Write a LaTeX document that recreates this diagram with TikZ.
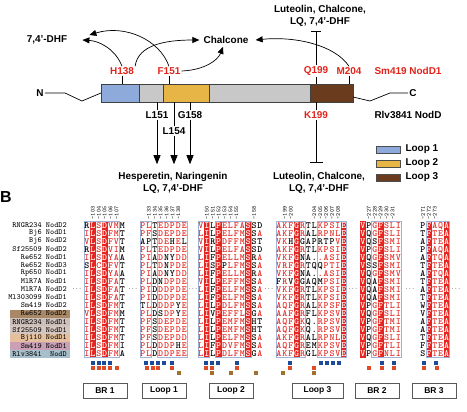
\documentclass[tikz,border=0pt]{standalone}
\usepackage{fontspec}
\setmainfont{Liberation Sans}
\usetikzlibrary{positioning, calc, arrows.meta}

\definecolor{loopA}{HTML}{8EAADB}
\definecolor{loopB}{HTML}{E6B545}
\definecolor{loopC}{HTML}{6B3B1E}
\definecolor{bargray}{HTML}{C8C8C8}
\definecolor{resred}{HTML}{E2231A}
\definecolor{alnred}{HTML}{E52620}
\definecolor{frameblue}{HTML}{9FB3D6}
\definecolor{sqblue}{HTML}{1E4A9A}
\definecolor{sqred}{HTML}{E04A25}
\definecolor{sqbrown}{HTML}{A07030}
\definecolor{nmA}{HTML}{A88866}
\definecolor{nmB}{HTML}{CDBFBA}
\definecolor{nmC}{HTML}{D6C6C0}
\definecolor{nmD}{HTML}{E6C09C}
\definecolor{nmE}{HTML}{C9A0B6}
\definecolor{nmF}{HTML}{A7BFCB}

\tikzset{
	lbl/.style={font=\bfseries\fontsize{10}{12}\selectfont, inner sep=1bp},
	reslbl/.style={lbl, text=resred},
	seg/.style={draw=black!75, line width=0.6bp, minimum height=18bp, inner sep=0, outer sep=0},
	arr/.style={-{Triangle[length=7bp,width=6bp]}, line width=0.7bp},
	darr/.style={-{Triangle[length=9bp,width=7bp]}, line width=0.7bp},
	inh/.style={line width=0.7bp},
	legbox/.style={draw=black!70, line width=0.6bp, minimum width=24bp, minimum height=7bp, inner sep=0},
	nm/.style={font=\ttfamily\fontsize{7.9}{8}\selectfont, anchor=east, inner sep=0},
	alnlt/.style={font=\ttfamily\bfseries\fontsize{9.5}{9.5}\selectfont, inner sep=0, anchor=base},
	hdr/.style={font=\ttfamily\fontsize{6}{6}\selectfont, text=black, rotate=90, anchor=west, inner sep=0},
	frm/.style={draw=frameblue, line width=0.7bp},
	dots/.style={font=\ttfamily\fontsize{6}{6}\selectfont, inner sep=0},
	regbox/.style={draw=black!65, line width=1bp, minimum height=15bp, inner sep=0, font=\bfseries\fontsize{8.5}{9}\selectfont}
}

\newcommand\alnpitch{5.9}
\newcommand\alnrow[4]{%
	\pgfmathsetmacro\alnx{#1+\alnpitch/2}%
	\pgfmathsetmacro\alny{228+(#2-1)*8.05}%
	\edef\alntmp{\noexpand\alnloop#3\relax#4\relax}\alntmp}
\def\alnloop#1#2\relax#3#4\relax{%
	\alnchar{#1}{#3}%
	\pgfmathsetmacro\alnx{\alnx+\alnpitch}%
	\if\relax\detokenize{#2}\relax\else\alnloop#2\relax#4\relax\fi}
\newcommand\alnchar[2]{%
	\def\alncol{black}%
	\ifx w#1\def\alncol{white}\else
		\ifx r#1\def\alncol{alnred}\fi
		\ifnum`#2=\lccode`#2 \def\alncol{black}\fi
	\fi
	\ifnum`#2=\lccode`#2 \edef\alnglyph{\noexpand\char\number\uccode`#2 }\else\def\alnglyph{#2}\fi
	\node[alnlt,text=\alncol] at (\alnx,\alny) {\alnglyph};}
\newcommand\alnband[2]{\fill[alnred] ({#1+(#2-1)*\alnpitch},221) rectangle ++(\alnpitch,136.8);}
\newcommand\alnframe[3]{\draw[frm] ({#1+(#2-1)*\alnpitch},221) rectangle ({#1+#3*\alnpitch},357.8);}

\begin{document}
\begin{tikzpicture}[x=1bp,y=-1bp]
	\useasboundingbox (0,0) rectangle (467,411);

	% domain bar
	\node[seg,fill=loopA,minimum width=38bp,anchor=west] (s1) at (101,93) {};
	\node[seg,fill=bargray,minimum width=24bp,right=0pt of s1] (s2) {};
	\node[seg,fill=loopB,minimum width=46bp,right=0pt of s2] (s3) {};
	\node[seg,fill=bargray,minimum width=101bp,right=0pt of s3] (s4) {};
	\node[seg,fill=loopC,minimum width=43bp,right=0pt of s4] (s5) {};

	\node[lbl] (nlab) at (40,93) {N};
	\node[lbl] (clab) at (413,93) {C};
	\draw[inh] (nlab) -- (65,93) -- (82,101) -- (s1.west);
	\draw[inh] (clab) -- (390,93) -- (370,101) -- ([yshift=-4bp]s5.east);

	% residues above
	\node[reslbl] (h138) at (122,71) {H138};
	\node[reslbl] (f151) at (169,71) {F151};
	\node[reslbl] (q199) at (316,71) {Q199};
	\node[reslbl] (m204) at (349,71) {M204};
	\node[reslbl] (sm419) at (408,71) {Sm419 NodD1};
	\draw[inh] (h138) -- (h138 |- s1.north);
	\draw[inh] (f151) -- (f151 |- s3.north);
	\draw[inh] (q199) -- (q199 |- s5.north);
	\draw[inh] (m204) -- (m204 |- s5.north);

	% residues below
	\node[reslbl] (k199) at (316,115) {K199};
	\node[lbl] (rlv) at (408,115) {Rlv3841 NodD};
	\node[lbl] (l151) at (157,115) {L151};
	\node[lbl] (g158) at (190,115) {G158};
	\node[lbl] (l154) at (174,131) {L154};
	\draw[inh] (k199) -- (k199 |- s5.south);
	\draw[inh] (l151) -- (l151 |- s3.south);
	\draw[inh] (g158) -- (g158 |- s3.south);
	\draw[inh] (l154) -- (l154 |- s3.south);

	% ligands
	\node[lbl] (dhf) at (47,40) {7,4’-DHF};
	\node[lbl] (chal) at (226,40) {Chalcone};
	\node[lbl,align=center] (lutA) at (320,16) {Luteolin, Chalcone,\\LQ, 7,4’-DHF};
	\node[lbl,align=center] (hes) at (173,183) {Hesperetin, Naringenin\\LQ, 7,4’-DHF};
	\node[lbl,align=center] (lutB) at (319,183) {Luteolin, Chalcone,\\LQ, 7,4’-DHF};

	\draw[arr] (h138.north) .. controls (116,50) and (100,41) .. ([xshift=14bp]dhf.east);
	\draw[arr] (f151.north) .. controls (160,40) and (125,24) .. ([xshift=21bp,yshift=5bp]dhf.east);
	\draw[arr] (h138.north east) .. controls (138,45) and (165,40) .. ([xshift=-3bp]chal.west);
	\draw[arr] (f151.east) .. controls (205,70) and (218,60) .. ([xshift=-3bp,yshift=-2bp]chal.south);
	\draw[arr] (m204.north) .. controls (335,45) and (295,36) .. ([xshift=6bp]chal.east);

	\coordinate (qbar) at (316,31);
	\coordinate (kbar) at (316,163);
	\draw[inh,-{Bar[width=10bp]}] (q199) -- (qbar);
	\draw[inh,-{Bar[width=13bp]}] (k199) -- (kbar);
	\draw[darr,shorten >=7bp] (l151) -- (l151 |- hes.north);
	\draw[darr,shorten >=7bp] (l154) -- (l154 |- hes.north);
	\draw[darr,shorten >=7bp] (g158) -- (g158 |- hes.north);

	% legend
	\node[legbox,fill=loopA] (leg1) at (388,149.5) {};
	\node[legbox,fill=loopB] (leg2) at (388,163.5) {};
	\node[legbox,fill=loopC] (leg3) at (388,177.5) {};
	\node[lbl,right=4bp of leg1] (legt1) {Loop 1};
	\node[lbl,right=4bp of leg2] (legt2) {Loop 2};
	\node[lbl,right=4bp of leg3] (legt3) {Loop 3};

	% panel B
	\node[font=\bfseries\fontsize{16}{16}\selectfont,anchor=west,inner sep=0] (panelB) at (0,197) {B};

	% highlighted names
	\foreach \c [count=\r from 12] in {nmA,nmB,nmC,nmD,nmE,nmF}
		{\fill[\c] (10,{221+(\r-1)*8.05}) rectangle (70,{229.05+(\r-1)*8.05});}
	\foreach \nm [count=\r] in {RNGR234 NodD2,Bj6 NodD1,Bj6 NodD2,Sf25509 NodD2,Re652 NodD1,Re652 NodD3,Rp650 NodD1,MlR7A NodD1,MlR7A NodD2,Ml303099 NodD1,Sm419 NodD2,Re652 NodD2,RNGR234 NodD1,Sf25509 NodD1,Bj110 NodD1,Sm419 NodD1,Rlv3841~ NodD}
		{\node[nm] (name\r) at (67,{225+(\r-1)*8.05}) {\nm};}

	% conserved columns
	\foreach \x/\c in {84/2,84/4,198/2,198/4,198/9,276/4,276/12,360/1,360/4,420/2,420/5}
		{\alnband{\x}{\c}}
	\foreach \x/\a/\b in {84/1/6,140/1/2,140/4/8,198/1/2,198/4/9,276/1/5,276/8/12,360/3/7,420/2/5}
		{\alnframe{\x}{\a}{\b}}

	% residue numbers
	\foreach \x/\c/\n in {84/2/103,84/3/104,84/4/105,84/5/106,84/6/107,
		140/2/133,140/3/134,140/4/135,140/5/136,140/6/137,140/7/138,
		198/2/150,198/3/151,198/4/152,198/5/153,198/6/154,198/7/155,198/10/158,
		276/2/199,276/3/200,276/7/204,276/8/205,276/9/206,276/10/207,276/11/208,
		360/2/227,360/3/228,360/4/229,360/5/230,360/6/231,
		420/1/271,420/2/272,420/3/273}
		{\node[hdr] at ({\x+(\c-0.5)*\alnpitch},219.5) {-\n};}

	% BR 1
	\foreach \s [count=\r] in {rLSDVMM,ILSDFMT,VLSDFVT,rLSDVIM,ILSDYAA,sLCDFVT,ILSDYAA,ILSDFAT,ILSDFAT,ILSDFAT,ILSDFMT,VLSDFMM,ILSDFMT,ILSDFMT,ILSDFMT,ILSDFMI,ILSDFMA}
		{\alnrow{84}{\r}{rwrwrrk}{\s}}
	% Loop 1
	\foreach \s [count=\r] in {PLTEDPDE,PFSDEPDE,aptDEhEl,PLTEDPDE,PIADnyDD,PLTDnPDE,PIADnyDD,PLDnDPDE,PIDDDPDE,PIDDDPDE,tLDDDPyE,PLDsDPyE,PFSDEPDE,PFSDEPDE,PFSDEPDD,PLDDDPhE,PLDDDPEE}
		{\alnrow{140}{\r}{rrkrrrrr}{\s}}
	% Loop 2
	\foreach \s [count=\r] in {VILPELFASSd,LILPELFMSSA,VIRPDFFMSSt,VILPELFASSd,LIFPELLMSRA,LISPpLFMSSA,LIFPELLMSRA,VILPEFFMSSA,LIFPELFMSSA,LIFPELFMSSA,LILPDLFMSSA,LIVPEFFLSGA,LILPEMFMSHt,LILPEMFMSHt,LILPELFMSSA,LIFPDVFMSSA,LILPDLFMSGA}
		{\alnrow{198}{\r}{rwkwrrrrwkr}{\s}}
	% Loop 3
	\foreach \s [count=\r] in {AKFGRTLKPSIE,AKFGRALRPNLE,VKhGgaprtpVE,AKFGRTLKPSIE,VKFGnA..ASIE,VRFGRTQqPTIE,VKFGnA..ASIE,fRvGgAQmPSIE,VKFGRTLKPSIE,VKFGRTLKPSIE,AQFGRALKPSFE,AAFGRFLKPSVE,AQFGKQ.RPSVE,AQFGKQ.RPSVE,AKFGRALRPNLE,AQFGREMKPSVE,AKFGRGLKPSVE}
		{\alnrow{276}{\r}{rrrwrkkrrrrw}{\s}}
	% BR 2
	\foreach \s [count=\r] in {VPGFSLI,VQGFSLI,VQsFSMI,VPGFSLI,VQGFSMV,VSsFSMI,VQGFSMV,VQaFSMI,VQaFSMI,VQaFSMI,VPGFTLI,VQGFSLI,VPGFTMI,VPGFTMI,VQGFSLI,VPGFTLI,VPGFNLI}
		{\alnrow{360}{\r}{wkrwrrr}{\s}}
	% BR 3
	\foreach \s [count=\r] in {PFAQA,TFTEA,AFTEA,PFAQA,AFTQA,TFTEA,AFTQA,TFTEA,AFTEA,TFTEA,WFTEA,VFTEA,AFTEA,AFTEA,TFTEA,FFTEA,SFTEA}
		{\alnrow{420}{\r}{kwrrw}{\s}}

	% gaps
	\foreach \x in {77,133,193,269,353,410,456}
		{\node[dots] at (\x,289.4) {...};}

	% contact marks
	\foreach \x in {93,99,104,110,146,152,158,164,172,206,212,218,237,290,321,327,333,339,382,394,424,436}
		{\fill[sqblue] (\x-1.6,361.4) rectangle ++(3.2,3.2);}
	\foreach \x in {93,99,104,110,117,147,153,158,172,206,212,237,290,314,369,382,394,424,437}
		{\fill[sqred] (\x-1.6,366.4) rectangle ++(3.2,3.2);}
	\foreach \x in {179,212,231,256,283,314}
		{\fill[sqbrown] (\x-1.6,371.4) rectangle ++(3.2,3.2);}

	% regions
	\node[regbox,minimum width=44bp] (br1) at (105,390.5) {BR 1};
	\node[regbox,minimum width=44bp] (lp1) at (164,390.5) {Loop 1};
	\node[regbox,minimum width=44bp] (lp2) at (231,390.5) {Loop 2};
	\node[regbox,minimum width=51bp] (lp3) at (317.5,390.5) {Loop 3};
	\node[regbox,minimum width=44bp] (br2) at (377,390.5) {BR 2};
	\node[regbox,minimum width=44bp] (br3) at (434,390.5) {BR 3};
\end{tikzpicture}
\end{document}
